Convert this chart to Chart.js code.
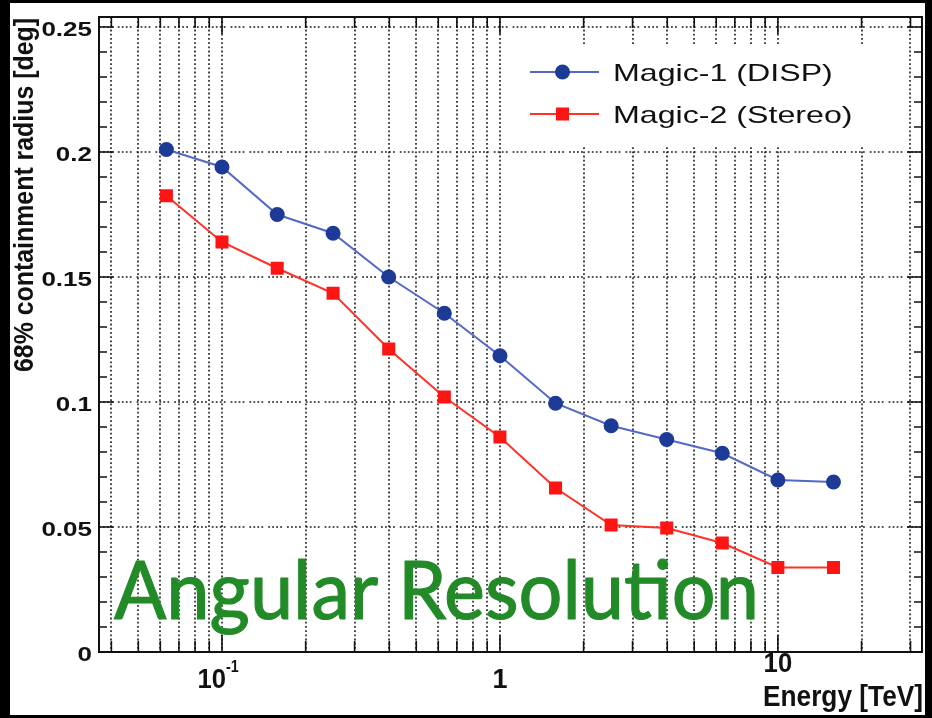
<!DOCTYPE html>
<html>
<head>
<meta charset="utf-8">
<title>Angular Resolution</title>
<script src="https://cdn.jsdelivr.net/npm/chart.js@4.4.1/dist/chart.umd.min.js"></script>
<style>
  html, body { margin: 0; padding: 0; background: #000; }
  canvas { display: block; }
</style>
</head>
<body>
<canvas id="resChart" width="932" height="718"></canvas>
<script>
// Energy bins [TeV] and 68% containment radius [deg]
const energies = [0.0631, 0.1, 0.158, 0.251, 0.398, 0.631, 1, 1.585, 2.512, 3.981, 6.31, 10, 15.85];
const magic1 = [0.201, 0.194, 0.175, 0.1675, 0.150, 0.1355, 0.1185, 0.0995, 0.0905, 0.085, 0.0795, 0.0688, 0.0680];
const magic2 = [0.1825, 0.164, 0.1535, 0.1435, 0.1212, 0.102, 0.086, 0.0656, 0.0508, 0.0496, 0.0436, 0.0338, 0.0338];
const seriesNames = ['Magic-1 (DISP)', 'Magic-2 (Stereo)'];

const yTickValues = [0, 0.05, 0.1, 0.15, 0.2, 0.25];
const yTickLabels = ['0', '0.05', '0.1', '0.15', '0.2', '0.25'];
const xLabelValues = [0.1, 1, 10];

const FONT = '"Liberation Sans", Arial, sans-serif';

// draw text squeezed/stretched horizontally by sx
function drawText(ctx, text, x, y, font, align, sx, outline) {
    ctx.save();
    ctx.font = font;
    ctx.translate(x, y);
    ctx.scale(sx || 1, 1);
    ctx.textAlign = align || 'left';
    ctx.textBaseline = 'alphabetic';
    ctx.fillText(text, 0, 0);
    if (outline) {
        ctx.lineWidth = outline;
        ctx.lineJoin = 'round';
        ctx.strokeStyle = ctx.fillStyle;
        ctx.strokeText(text, 0, 0);
    }
    ctx.restore();
}

function fitWidth(ctx, text, font, width) {
    ctx.save();
    ctx.font = font;
    const w = ctx.measureText(text).width;
    ctx.restore();
    return width / w;
}

// log-axis tick positions (1..9 x 10^n) inside the range
function logTicks(min, max) {
    const out = [];
    for (let d = -3; d <= 3; d++) {
        for (let m = 1; m <= 9; m++) {
            const v = m * Math.pow(10, d);
            if (v >= min && v <= max) out.push({ v: v, major: m === 1 });
        }
    }
    return out;
}

const rootStyle = {
    id: 'rootStyle',
    beforeDraw(chart) {
        const ctx = chart.ctx;
        ctx.save();
        ctx.fillStyle = '#000';
        ctx.fillRect(0, 0, chart.width, chart.height);
        ctx.fillStyle = '#fff';
        ctx.fillRect(10, 3, 915, 712);
        ctx.restore();
    },
    beforeDatasetsDraw(chart) {
        const ctx = chart.ctx;
        const a = chart.chartArea;
        const xs = chart.scales.x, ys = chart.scales.y;
        ctx.save();
        ctx.strokeStyle = '#1a1a1a';
        ctx.lineWidth = 1.6;
        ctx.setLineDash([1.8, 2.4]);
        logTicks(xs.min, xs.max).forEach(t => {
            const px = Math.round(xs.getPixelForValue(t.v));
            ctx.beginPath();
            ctx.moveTo(px, a.top);
            ctx.lineTo(px, a.bottom);
            ctx.stroke();
        });
        ctx.setLineDash([1.8, 2.2, 1.8, 2.2, 1.8, 2.2, 1.8, 5]);
        yTickValues.forEach(v => {
            if (v <= 0) return;
            const py = Math.round(ys.getPixelForValue(v));
            ctx.beginPath();
            ctx.moveTo(a.left, py);
            ctx.lineTo(a.right, py);
            ctx.stroke();
        });
        ctx.restore();
    },
    afterDatasetsDraw(chart) {
        const ctx = chart.ctx;
        const a = chart.chartArea;
        const xs = chart.scales.x, ys = chart.scales.y;

        // big green caption
        ctx.save();
        ctx.fillStyle = 'rgb(34,139,40)';
        const capFont = '400 82px Lato, sans-serif';
        drawText(ctx, 'Angular Resolution', 114, 619, capFont, 'left',
            fitWidth(ctx, 'Angular Resolution', capFont, 645), 1.2);
        ctx.restore();

        // frame
        ctx.save();
        ctx.strokeStyle = '#111';
        ctx.lineWidth = 2;
        ctx.strokeRect(a.left, a.top, a.right - a.left, a.bottom - a.top);

        // tick marks on all four sides
        ctx.lineWidth = 1.6;
        logTicks(xs.min, xs.max).forEach(t => {
            const px = xs.getPixelForValue(t.v);
            const len = t.major ? 17 : 11;
            ctx.beginPath();
            ctx.moveTo(px, a.bottom);
            ctx.lineTo(px, a.bottom - len);
            ctx.moveTo(px, a.top);
            ctx.lineTo(px, a.top + len);
            ctx.stroke();
        });
        for (let i = 0; i <= 25; i++) {
            const v = i * 0.01;
            const py = ys.getPixelForValue(v);
            const len = i % 5 === 0 ? 15 : 8;
            ctx.beginPath();
            ctx.moveTo(a.left, py);
            ctx.lineTo(a.left + len, py);
            ctx.moveTo(a.right, py);
            ctx.lineTo(a.right - len, py);
            ctx.stroke();
        }
        ctx.restore();

        // axis labels
        ctx.save();
        ctx.fillStyle = '#111';
        const yFont = 'bold 20px ' + FONT;
        yTickValues.forEach((v, i) => {
            drawText(ctx, yTickLabels[i], 92, ys.getPixelForValue(v) + 9, yFont, 'right', 1.3);
        });

        const xFont = 'bold 27px ' + FONT;
        const supFont = 'bold 16px ' + FONT;
        xLabelValues.forEach(v => {
            const px = xs.getPixelForValue(v);
            if (v < 1) {
                drawText(ctx, '10', px + 4, 688, xFont, 'right', 0.95);
                drawText(ctx, '-1', px + 4, 672, supFont, 'left', 0.9);
            } else if (v === 1) {
                drawText(ctx, '1', px, 688, xFont, 'center', 1);
            } else {
                drawText(ctx, '10', px, 672, xFont, 'center', 0.95);
            }
        });

        const xtFont = 'bold 29px ' + FONT;
        drawText(ctx, 'Energy [TeV]', a.right + 1, 706, xtFont, 'right',
            fitWidth(ctx, 'Energy [TeV]', xtFont, 160));

        // rotated y title
        const ytFont = 'bold 27px ' + FONT;
        const ytSx = fitWidth(ctx, '68% containment radius [deg]', ytFont, 354);
        ctx.save();
        ctx.translate(33, 372);
        ctx.rotate(-Math.PI / 2);
        drawText(ctx, '68% containment radius [deg]', 0, 0, ytFont, 'left', ytSx);
        ctx.restore();
        ctx.restore();

        // legend box
        ctx.save();
        ctx.fillStyle = '#fff';
        ctx.fillRect(506, 46, 374, 100);
        const rows = [72, 114];
        chart.data.datasets.forEach((ds, i) => {
            const y = rows[i];
            ctx.strokeStyle = ds.borderColor;
            ctx.lineWidth = 2;
            ctx.setLineDash([]);
            ctx.beginPath();
            ctx.moveTo(530, y);
            ctx.lineTo(599, y);
            ctx.stroke();
            ctx.fillStyle = ds.pointBackgroundColor;
            ctx.beginPath();
            if (ds.pointStyle === 'rect') {
                ctx.rect(556, y - 6.5, 13, 13);
            } else {
                ctx.arc(562.5, y, 7.5, 0, Math.PI * 2);
            }
            ctx.fill();
            ctx.fillStyle = '#111';
            drawText(ctx, ds.label, 613, y + 9, '24px ' + FONT, 'left', 1.34);
        });
        ctx.restore();
    }
};

const toPoints = (ys) => energies.map((e, i) => ({ x: e, y: ys[i] }));

new Chart(document.getElementById('resChart'), {
    type: 'line',
    data: {
        datasets: [
            {
                label: seriesNames[0],
                data: toPoints(magic1),
                borderColor: 'rgb(84,104,200)',
                borderWidth: 2,
                pointStyle: 'circle',
                pointRadius: 7.5,
                pointBackgroundColor: 'rgb(28,58,150)',
                pointBorderColor: 'rgb(28,58,150)',
                pointBorderWidth: 0,
                tension: 0
            },
            {
                label: seriesNames[1],
                data: toPoints(magic2),
                borderColor: 'rgb(255,50,40)',
                borderWidth: 2,
                pointStyle: 'rect',
                pointRadius: 9.2,
                pointBackgroundColor: 'rgb(255,20,20)',
                pointBorderColor: 'rgb(255,20,20)',
                pointBorderWidth: 0,
                tension: 0
            }
        ]
    },
    options: {
        responsive: false,
        animation: false,
        devicePixelRatio: 1,
        layout: { padding: { left: 99, top: 17, right: 10, bottom: 66 } },
        scales: {
            x: { type: 'logarithmic', min: 0.0361, max: 33, display: false },
            y: { type: 'linear', min: 0, max: 0.254, display: false }
        },
        plugins: {
            legend: { display: false },
            tooltip: { enabled: false }
        }
    },
    plugins: [rootStyle]
});
</script>
</body>
</html>
